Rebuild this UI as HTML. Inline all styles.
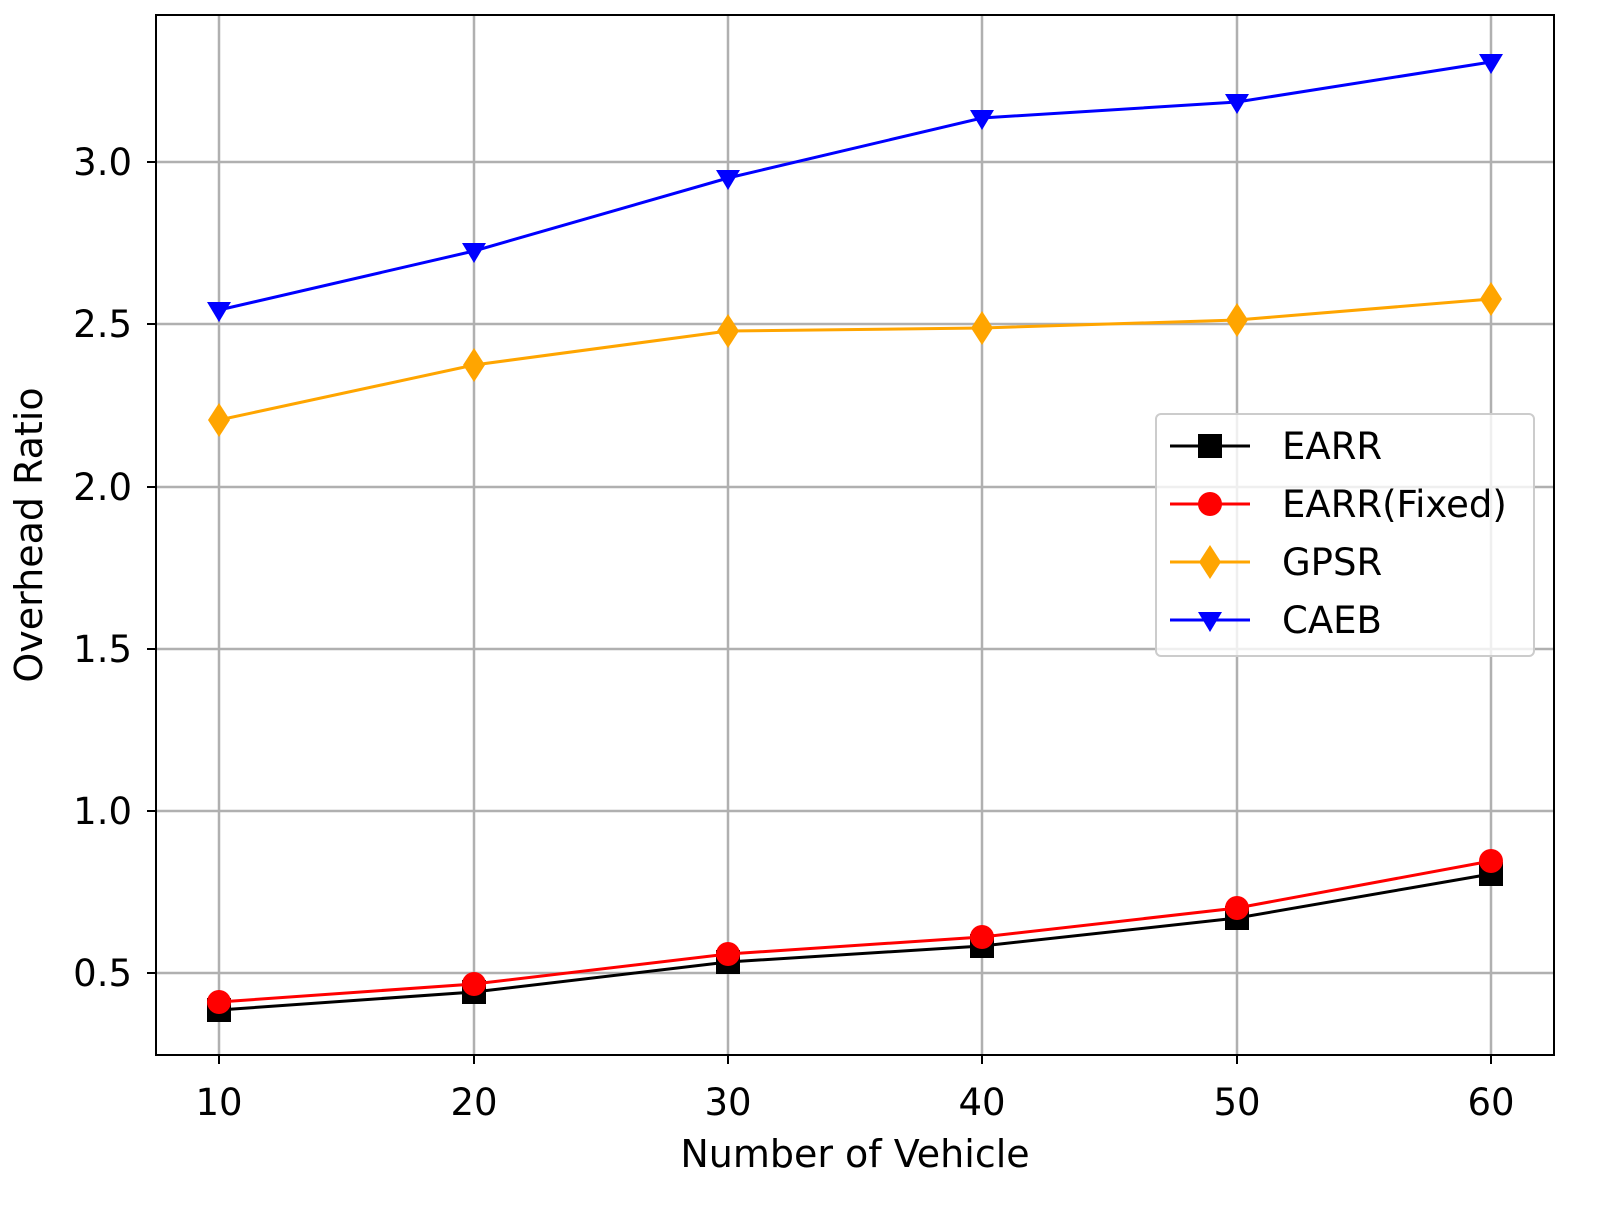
<!DOCTYPE html>
<html><head><meta charset="utf-8"><style>html,body{margin:0;padding:0;background:#fff}svg{display:block}text{font-family:"DejaVu Sans","Liberation Sans",sans-serif;fill:#000}</style></head><body>
<svg width="1612" height="1217" viewBox="0 0 1612 1217" xmlns="http://www.w3.org/2000/svg">
<rect width="1612" height="1217" fill="#fff"/>
<g stroke="#b0b0b0" stroke-width="2.5">
<line x1="219" y1="15" x2="219" y2="1055"/><line x1="474" y1="15" x2="474" y2="1055"/><line x1="728" y1="15" x2="728" y2="1055"/><line x1="982" y1="15" x2="982" y2="1055"/><line x1="1237" y1="15" x2="1237" y2="1055"/><line x1="1491" y1="15" x2="1491" y2="1055"/>
<line x1="156" y1="162" x2="1554" y2="162"/><line x1="156" y1="324" x2="1554" y2="324"/><line x1="156" y1="487" x2="1554" y2="487"/><line x1="156" y1="649" x2="1554" y2="649"/><line x1="156" y1="811" x2="1554" y2="811"/><line x1="156" y1="973" x2="1554" y2="973"/>
</g>
<g stroke="#000" stroke-width="2">
<line x1="219" y1="1055" x2="219" y2="1064"/><line x1="474" y1="1055" x2="474" y2="1064"/><line x1="728" y1="1055" x2="728" y2="1064"/><line x1="982" y1="1055" x2="982" y2="1064"/><line x1="1237" y1="1055" x2="1237" y2="1064"/><line x1="1491" y1="1055" x2="1491" y2="1064"/>
<line x1="147" y1="162" x2="156" y2="162"/><line x1="147" y1="324" x2="156" y2="324"/><line x1="147" y1="487" x2="156" y2="487"/><line x1="147" y1="649" x2="156" y2="649"/><line x1="147" y1="811" x2="156" y2="811"/><line x1="147" y1="973" x2="156" y2="973"/>
</g>
<g font-size="37" text-anchor="middle">
<text x="219" y="1115">10</text><text x="474" y="1115">20</text><text x="728" y="1115">30</text><text x="982" y="1115">40</text><text x="1237" y="1115">50</text><text x="1491" y="1115">60</text>
</g>
<g font-size="37" text-anchor="end">
<text x="132" y="175">3.0</text><text x="132" y="337">2.5</text><text x="132" y="500">2.0</text><text x="132" y="662">1.5</text><text x="132" y="824">1.0</text><text x="132" y="986">0.5</text>
</g>
<text x="855" y="1167" font-size="38" text-anchor="middle">Number of Vehicle</text>
<text transform="translate(42,535) rotate(-90)" font-size="38" text-anchor="middle">Overhead Ratio</text>
<polyline fill="none" stroke="#0000ff" stroke-width="3" points="219,310 474,251 728,178 982,118 1237,102 1491,62"/>
<g fill="#0000ff"><path d="M207,302h24l-12,20z"/><path d="M462,243h24l-12,20z"/><path d="M716,170h24l-12,20z"/><path d="M970,110h24l-12,20z"/><path d="M1225,94h24l-12,20z"/><path d="M1479,54h24l-12,20z"/></g>
<polyline fill="none" stroke="#ffa500" stroke-width="3" points="219,420 474,365 728,331 982,328 1237,320 1491,299"/>
<g fill="#ffa500"><path d="M219,403l11,17l-11,17l-11,-17z"/><path d="M474,348l11,17l-11,17l-11,-17z"/><path d="M728,314l11,17l-11,17l-11,-17z"/><path d="M982,311l11,17l-11,17l-11,-17z"/><path d="M1237,303l11,17l-11,17l-11,-17z"/><path d="M1491,282l11,17l-11,17l-11,-17z"/></g>
<polyline fill="none" stroke="#000" stroke-width="3" points="219,1010 474,992 728,962 982,946 1237,918 1491,874"/>
<g fill="#000"><rect x="207" y="998" width="24" height="24"/><rect x="462" y="980" width="24" height="24"/><rect x="716" y="950" width="24" height="24"/><rect x="970" y="934" width="24" height="24"/><rect x="1225" y="906" width="24" height="24"/><rect x="1479" y="862" width="24" height="24"/></g>
<polyline fill="none" stroke="#ff0000" stroke-width="3" points="219,1002 474,984 728,954 982,937 1237,908 1491,861"/>
<g fill="#ff0000"><circle cx="219" cy="1002" r="12"/><circle cx="474" cy="984" r="12"/><circle cx="728" cy="954" r="12"/><circle cx="982" cy="937" r="12"/><circle cx="1237" cy="908" r="12"/><circle cx="1491" cy="861" r="12"/></g>
<rect x="156" y="15" width="1398" height="1040" fill="none" stroke="#000" stroke-width="2"/>
<rect x="1156" y="414" width="378" height="242" rx="5" fill="#fff" fill-opacity="0.8" stroke="#ccc" stroke-width="2"/>
<line x1="1170" y1="446" x2="1250" y2="446" stroke="#000" stroke-width="3"/><rect x="1198" y="434" width="24" height="24" fill="#000"/>
<line x1="1170" y1="504" x2="1250" y2="504" stroke="#f00" stroke-width="3"/><circle cx="1210" cy="504" r="12" fill="#f00"/>
<line x1="1170" y1="562" x2="1250" y2="562" stroke="#ffa500" stroke-width="3"/><path d="M1210,545l11,17l-11,17l-11,-17z" fill="#ffa500"/>
<line x1="1170" y1="620" x2="1250" y2="620" stroke="#00f" stroke-width="3"/><path d="M1198,612h24l-12,20z" fill="#00f"/>
<g font-size="37"><text x="1282" y="459">EARR</text><text x="1282" y="517">EARR(Fixed)</text><text x="1282" y="575">GPSR</text><text x="1282" y="633">CAEB</text></g>
</svg>
</body></html>
